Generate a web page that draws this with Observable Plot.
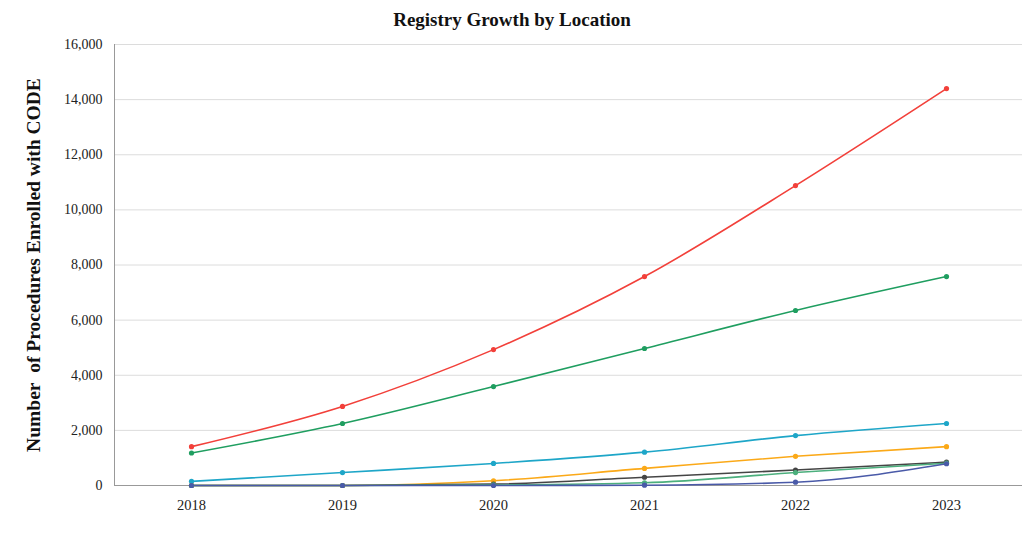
<!DOCTYPE html>
<html><head><meta charset="utf-8">
<script src="https://cdn.jsdelivr.net/npm/d3@7"></script>
<script src="https://cdn.jsdelivr.net/npm/@observablehq/plot@0.6"></script>
<style>
body{margin:0;background:#fff;font-family:"Liberation Serif",serif}
#title{height:36px;line-height:40px;text-align:center;font-weight:bold;font-size:19px;color:#111}
</style></head><body>
<div id="title">Registry Growth by Location</div>
<div id="chart"></div>
<script>
const years = [2018, 2019, 2020, 2021, 2022, 2023];
const yTicks = [0, 2000, 4000, 6000, 8000, 10000, 12000, 14000, 16000];
const seriesNames = ["Location 1", "Location 2", "Location 3", "Location 4", "Location 5", "Location 6", "Location 7"];
const seriesColors = ["#f2403a", "#1f9e60", "#1ea6c8", "#fba918", "#454545", "#4caf7d", "#4a5aa8"];
const location1 = [1410, 2870, 4930, 7580, 10880, 14400];
const location2 = [1180, 2250, 3590, 4970, 6350, 7580];
const location3 = [150, 470, 800, 1210, 1810, 2250];
const location4 = [0, 0, 170, 620, 1060, 1410];
const location5 = [0, 0, 50, 300, 560, 850];
const location6 = [0, 0, 20, 100, 470, 810];
const location7 = [0, 0, 0, 10, 120, 790];
const allSeries = [location1, location2, location3, location4, location5, location6, location7];
const yLabel = "Number\u00a0 of Procedures Enrolled with CODE";

const data = [];
allSeries.forEach((vals, i) => vals.forEach((v, j) => data.push({series: seriesNames[i], year: years[j], value: v})));

const chart = Plot.plot({
  width: 1024,
  height: 509,
  marginLeft: 114,
  marginRight: 2,
  marginTop: 8,
  marginBottom: 60,
  style: {fontFamily: "'Liberation Serif', serif", fontSize: "14px", color: "#222", background: "#fff"},
  x: {type: "point", domain: years, padding: 0.5, label: null},
  y: {domain: [0, 16000], label: null},
  color: {domain: seriesNames, range: seriesColors},
  marks: [
    Plot.gridY(yTicks, {stroke: "#dcdcdc", strokeOpacity: 1}),
    Plot.frame({anchor: "left", stroke: "#999"}),
    Plot.ruleY([0], {stroke: "#999"}),
    Plot.axisY(yTicks, {tickSize: 0, tickPadding: 12, tickFormat: d3.format(","), fontSize: 14}),
    Plot.axisX(years, {tickSize: 0, tickPadding: 14, tickFormat: d => String(d), fontSize: 14.5}),
    Plot.line(data, {x: "year", y: "value", z: "series", stroke: "series", strokeWidth: 1.6, curve: "monotone-x"}),
    Plot.dot(data, {x: "year", y: "value", fill: "series", r: 2.6}),
    Plot.text([yLabel], {frameAnchor: "left", textAnchor: "middle", dx: -81, rotate: -90, fontWeight: "bold", fontSize: 19.5, fill: "#111"})
  ]
});
document.getElementById("chart").appendChild(chart);
</script>
</body></html>
